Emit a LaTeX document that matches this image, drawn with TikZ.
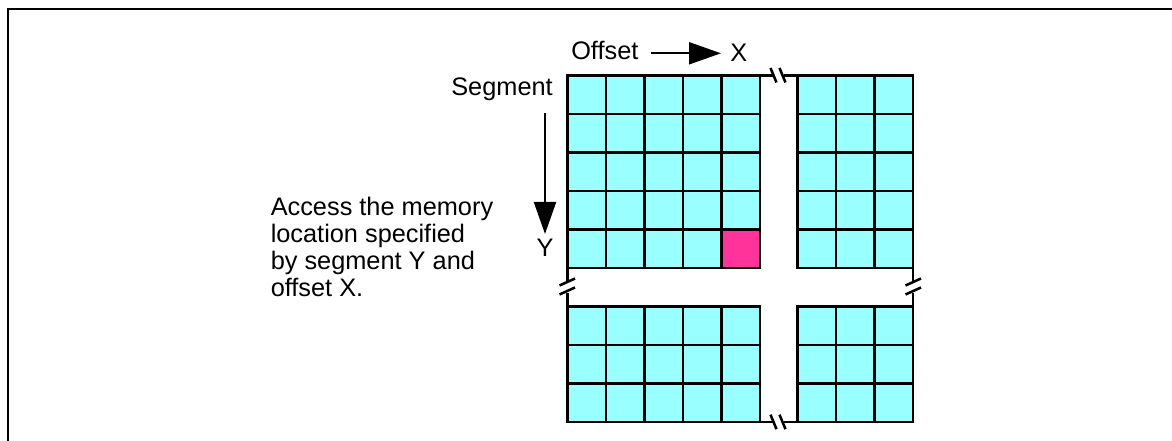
\documentclass[tikz,border=0pt]{standalone}
\usepackage{fontspec}
\setmainfont{Liberation Sans}
\usetikzlibrary{arrows.meta}
\definecolor{cellcyan}{HTML}{99FFFF}
\definecolor{cellpink}{HTML}{FF3399}
\begin{document}
\begin{tikzpicture}[x=0.75pt,y=-0.75pt,
  cell/.style={draw=black,line width=1.9pt,fill=cellcyan},
  hot/.style={draw=black,line width=1.9pt,fill=cellpink},
  edge/.style={draw=black,line width=1.9pt},
  brk/.style={draw=black,line width=1.9pt},
  frame/.style={draw=black,line width=1.5pt},
  lbl/.style={inner sep=0pt,font=\fontsize{19}{20}\selectfont},
  arr/.style={draw=black,line width=1.6pt,-{Triangle[length=24pt,width=16.5pt]}}]
\useasboundingbox (0,0) rectangle (1172,441);
% frame
\draw[frame] (8,441) -- (8,9.3) -- (1172,9.3);
% top-left block 5x5
\foreach \i in {0,...,4}{\foreach \j in {0,...,4}{
  \draw[cell] ({567.3+38.5*\i},{75.5+38.5*\j}) rectangle ++(38.5,38.5);}}
\draw[hot] (721.3,229.5) rectangle ++(38.5,38.5);
% top-right block 3x5
\foreach \i in {0,...,2}{\foreach \j in {0,...,4}{
  \draw[cell] ({797.7+38.5*\i},{75.5+38.5*\j}) rectangle ++(38.5,38.5);}}
% bottom-left block 5x3
\foreach \i in {0,...,4}{\foreach \j in {0,...,2}{
  \draw[cell] ({567.3+38.5*\i},{306.7+38.5*\j}) rectangle ++(38.5,38.5);}}
% bottom-right block 3x3
\foreach \i in {0,...,2}{\foreach \j in {0,...,2}{
  \draw[cell] ({797.7+38.5*\i},{306.7+38.5*\j}) rectangle ++(38.5,38.5);}}
% break connections
\coordinate (tA) at (759.8,75.5); \coordinate (tB) at (797.7,75.5);
\coordinate (bA) at (759.8,422.2); \coordinate (bB) at (797.7,422.2);
\coordinate (lA) at (567.3,268); \coordinate (lB) at (567.3,306.7);
\coordinate (rA) at (913.2,268); \coordinate (rB) at (913.2,306.7);
% top
\draw[edge] (tA) -- ++(13.5,0);
\draw[edge] (tB) -- ++(-13.5,0);
\draw[brk] (770.5,68) -- (776.5,82.5);
\draw[brk] (779.5,68) -- (785.5,82.5);
% bottom
\draw[edge] (bA) -- ++(13.5,0);
\draw[edge] (bB) -- ++(-13.5,0);
\draw[brk] (770.5,414.7) -- (776.5,429.2);
\draw[brk] (779.5,414.7) -- (785.5,429.2);
% left
\draw[edge] (lA) -- ++(0,14);
\draw[edge] (lB) -- ++(0,-14);
\draw[brk] (559.5,285.5) -- (575,278.5);
\draw[brk] (559.5,294.5) -- (575,287.5);
% right
\draw[edge] (rA) -- ++(0,14);
\draw[edge] (rB) -- ++(0,-14);
\draw[brk] (905.5,285.5) -- (921,278.5);
\draw[brk] (905.5,294.5) -- (921,287.5);
% labels and arrows
\node[lbl,anchor=base west] (offset) at (571,60) {Offset};
\node[lbl,anchor=base west] (xlab) at (730,62) {X};
\coordinate (hs) at (651,53.3); \coordinate (he) at (721,53.3);
\draw[arr] (hs) -- (he);
\node[lbl,anchor=base east] (segment) at (553,96) {Segment};
\coordinate (vs) at (545,113.3); \coordinate (ve) at (545,234);
\draw[arr] (vs) -- (ve);
\node[lbl,anchor=base] (ylab) at (545,256.7) {Y};
\node[lbl,anchor=base west] (t1) at (270.5,216) {Access the memory};
\node[lbl,anchor=base west] (t2) at (270.5,243) {location specified};
\node[lbl,anchor=base west] (t3) at (270.5,270) {by segment Y and};
\node[lbl,anchor=base west] (t4) at (270.5,297) {offset X.};
\end{tikzpicture}
\end{document}
